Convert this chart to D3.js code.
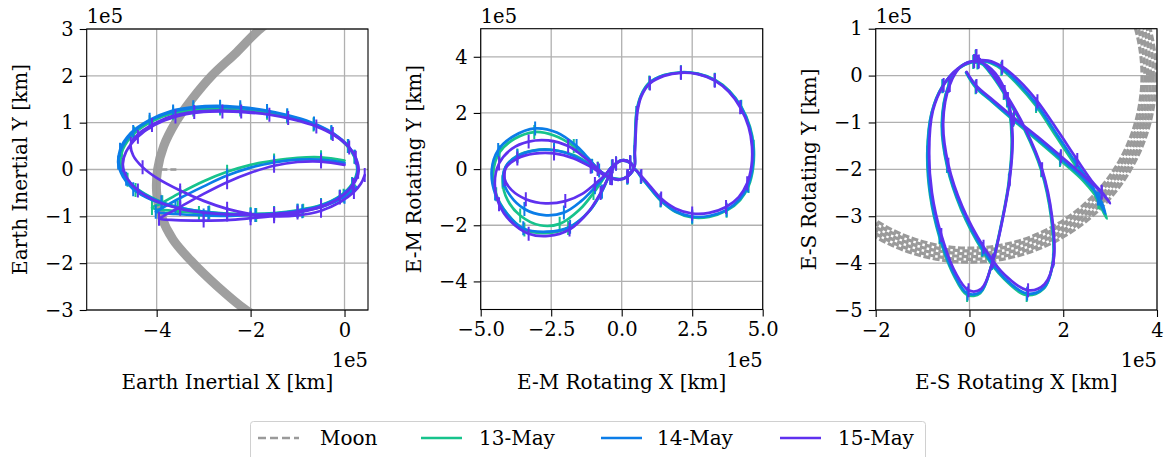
<!DOCTYPE html>
<html><head><meta charset="utf-8">
<script src="https://cdn.jsdelivr.net/npm/d3@7"></script>
<style>body{margin:0;background:#fff} svg{display:block} text{font-family:'DejaVu Serif',serif;fill:#000}</style>
</head><body><svg id="c" width="1164" height="457"></svg>
<script>
// ---------------- DATA (units of 1e5 km) ----------------
const seriesNames = ["13-May", "14-May", "15-May"];
const seriesColors = ["#17c38c", "#0b7de8", "#5f31ef"];
const moonColor = "#9a9a9a";

// Panel 1: Earth inertial
const p1XTicks = [-4, -2, 0];
const p1YTicks = [-3, -2, -1, 0, 1, 2, 3];
const p1Moon = [[-1.3,3.35],[-1.8,3.0],[-2.3,2.5],[-2.83,2.0],[-3.25,1.5],[-3.6,1.0],[-3.85,0.5],[-3.98,0.0],[-4.0,-0.5],[-3.9,-1.0],[-3.65,-1.5],[-3.22,-2.0],[-2.7,-2.5],[-2.1,-3.0],[-1.6,-3.3]];
const p1MoonDash = [[-3.9,0.0],[-3.55,0.0]];
const p1Traj13 = [[0.0,0.19],[-0.5,0.26],[-1.0,0.25],[-1.5,0.19],[-2.0,0.1],[-2.5,-0.05],[-3.0,-0.25],[-3.5,-0.5],[-3.9,-0.72],[-4.1,-0.82],[-3.7,-0.88],[-3.1,-0.93],[-2.5,-0.95],[-2.0,-0.95],[-1.5,-0.93],[-1.0,-0.88],[-0.5,-0.77],[-0.1,-0.58],[0.16,-0.32],[0.27,-0.04],[0.23,0.24],[0.07,0.5],[-0.23,0.75],[-0.66,0.96],[-1.15,1.11],[-1.65,1.21],[-2.15,1.27],[-2.65,1.3],[-3.15,1.28],[-3.65,1.2],[-4.1,1.03],[-4.48,0.77],[-4.72,0.43],[-4.77,0.12],[-4.67,-0.17],[-4.45,-0.44],[-4.05,-0.66],[-3.55,-0.81],[-3.0,-0.9],[-2.5,-0.94],[-2.0,-0.95],[-1.5,-0.93],[-1.0,-0.87],[-0.5,-0.76],[-0.1,-0.57],[0.16,-0.31],[0.27,-0.02],[0.21,0.27],[0.04,0.52],[-0.28,0.78],[-0.72,0.99],[-1.22,1.13],[-1.72,1.23],[-2.22,1.28],[-2.72,1.31],[-3.22,1.28],[-3.72,1.19],[-4.15,1.01],[-4.52,0.75],[-4.74,0.4],[-4.76,0.08],[-4.62,-0.22],[-4.32,-0.48],[-3.88,-0.7],[-3.38,-0.84],[-2.88,-0.92],[-2.38,-0.96],[-1.88,-0.97],[-1.38,-0.95],[-0.88,-0.88],[-0.4,-0.76],[-0.02,-0.56],[0.22,-0.34]];
const p1Traj14 = [[0.0,0.14],[-0.5,0.21],[-1.0,0.21],[-1.5,0.15],[-2.0,0.04],[-2.5,-0.13],[-3.0,-0.36],[-3.5,-0.61],[-3.95,-0.86],[-4.02,-0.9],[-3.6,-0.95],[-3.0,-0.98],[-2.5,-0.99],[-2.0,-0.97],[-1.5,-0.94],[-1.0,-0.88],[-0.5,-0.77],[-0.1,-0.58],[0.17,-0.32],[0.28,-0.04],[0.24,0.24],[0.08,0.5],[-0.22,0.76],[-0.65,0.98],[-1.15,1.14],[-1.65,1.25],[-2.15,1.31],[-2.65,1.34],[-3.15,1.32],[-3.65,1.24],[-4.1,1.07],[-4.5,0.8],[-4.75,0.45],[-4.82,0.15],[-4.72,-0.15],[-4.5,-0.42],[-4.1,-0.65],[-3.6,-0.8],[-3.0,-0.9],[-2.5,-0.95],[-2.0,-0.96],[-1.5,-0.94],[-1.0,-0.88],[-0.5,-0.77],[-0.1,-0.58],[0.17,-0.32],[0.28,-0.03],[0.22,0.27],[0.05,0.53],[-0.28,0.8],[-0.72,1.01],[-1.22,1.16],[-1.72,1.27],[-2.22,1.33],[-2.72,1.36],[-3.22,1.33],[-3.72,1.24],[-4.15,1.06],[-4.55,0.78],[-4.78,0.42],[-4.8,0.1],[-4.65,-0.2],[-4.35,-0.47],[-3.9,-0.7],[-3.4,-0.85],[-2.9,-0.93],[-2.4,-0.97],[-1.9,-0.97],[-1.4,-0.95],[-0.9,-0.89],[-0.4,-0.77],[0.0,-0.58],[0.25,-0.38]];
const p1Traj15 = [[0.0,0.1],[-0.5,0.17],[-1.0,0.16],[-1.5,0.08],[-2.0,-0.07],[-2.5,-0.27],[-3.0,-0.52],[-3.5,-0.8],[-3.9,-1.02],[-3.95,-1.05],[-3.6,-1.08],[-3.0,-1.09],[-2.5,-1.08],[-2.0,-1.04],[-1.5,-0.99],[-1.0,-0.92],[-0.5,-0.8],[-0.1,-0.6],[0.17,-0.33],[0.29,-0.05],[0.25,0.22],[0.1,0.47],[-0.2,0.72],[-0.6,0.92],[-1.1,1.07],[-1.6,1.17],[-2.1,1.22],[-2.6,1.24],[-3.1,1.22],[-3.6,1.13],[-4.05,0.95],[-4.4,0.7],[-4.65,0.38],[-4.72,0.1],[-4.62,-0.2],[-4.4,-0.45],[-4.0,-0.68],[-3.5,-0.84],[-3.0,-0.92],[-2.5,-0.96],[-2.0,-0.97],[-1.5,-0.95],[-1.0,-0.9],[-0.5,-0.79],[-0.1,-0.6],[0.18,-0.33],[0.3,-0.04],[0.24,0.25],[0.08,0.5],[-0.25,0.76],[-0.7,0.96],[-1.2,1.1],[-1.7,1.19],[-2.2,1.24],[-2.7,1.26],[-3.2,1.23],[-3.7,1.13],[-4.1,0.95],[-4.4,0.75],[-4.55,0.55],[-4.5,0.3],[-4.3,0.05],[-4.0,-0.18],[-3.5,-0.45],[-3.0,-0.67],[-2.5,-0.84],[-2.0,-0.95],[-1.5,-1.0],[-1.0,-0.98],[-0.5,-0.88],[-0.1,-0.7],[0.2,-0.48],[0.35,-0.3],[0.43,-0.12]];

// Panel 2: Earth-Moon rotating
const p2XTicks = [-5, -2.5, 0, 2.5, 5];
const p2YTicks = [-4, -2, 0, 2, 4];
const p2Traj13 = [[-0.05,-0.36],[-0.35,-0.31],[-0.62,-0.2],[-1.05,0.12],[-1.7,0.5],[-2.4,0.68],[-3.1,0.67],[-3.7,0.48],[-4.1,0.1],[-4.22,-0.45],[-4.05,-1.1],[-3.6,-1.65],[-2.9,-2.0],[-2.2,-1.95],[-1.5,-1.45],[-1.0,-0.85],[-0.62,-0.3],[-0.35,0.08],[0.0,0.3],[0.3,0.22],[0.43,0.05],[0.22,-0.25],[-0.1,-0.37],[-0.4,-0.3],[-0.62,-0.18],[-0.85,0.02],[-1.2,0.38],[-1.7,0.82],[-2.4,1.2],[-3.1,1.32],[-3.8,1.08],[-4.33,0.6],[-4.55,-0.1],[-4.45,-0.9],[-4.05,-1.6],[-3.45,-2.15],[-2.7,-2.28],[-1.9,-2.1],[-1.15,-1.5],[-0.72,-0.82],[-0.45,-0.25],[-0.2,0.2],[0.05,0.32],[0.3,0.24],[0.45,0.08],[0.46,0.6],[0.48,1.3],[0.52,2.0],[0.68,2.62],[0.98,3.08],[1.5,3.35],[2.1,3.45],[2.7,3.4],[3.3,3.18],[3.82,2.78],[4.24,2.22],[4.55,1.5],[4.68,0.8],[4.66,0.05],[4.5,-0.6],[4.2,-1.1],[3.72,-1.48],[3.1,-1.7],[2.5,-1.72],[1.9,-1.52],[1.38,-1.12],[0.98,-0.65],[0.68,-0.28],[0.45,0.0],[0.2,-0.3]];
const p2Traj14 = [[-0.05,-0.37],[-0.35,-0.32],[-0.62,-0.2],[-1.05,0.1],[-1.7,0.47],[-2.4,0.67],[-3.1,0.66],[-3.7,0.46],[-4.12,0.08],[-4.2,-0.4],[-3.95,-0.95],[-3.45,-1.42],[-2.75,-1.64],[-2.05,-1.55],[-1.45,-1.15],[-0.95,-0.65],[-0.6,-0.25],[-0.33,0.1],[0.0,0.31],[0.3,0.22],[0.43,0.05],[0.22,-0.26],[-0.1,-0.38],[-0.4,-0.3],[-0.6,-0.18],[-0.8,-0.05],[-1.15,0.35],[-1.6,0.82],[-2.3,1.3],[-3.07,1.45],[-3.84,1.17],[-4.38,0.68],[-4.61,-0.04],[-4.49,-0.87],[-4.08,-1.58],[-3.49,-2.11],[-2.66,-2.23],[-1.83,-2.05],[-1.12,-1.46],[-0.7,-0.8],[-0.45,-0.25],[-0.2,0.2],[0.05,0.32],[0.3,0.24],[0.45,0.08],[0.46,0.6],[0.49,1.3],[0.53,2.0],[0.69,2.62],[0.99,3.07],[1.5,3.34],[2.1,3.44],[2.7,3.39],[3.3,3.17],[3.81,2.77],[4.23,2.21],[4.53,1.5],[4.66,0.8],[4.64,0.06],[4.48,-0.58],[4.18,-1.08],[3.72,-1.45],[3.1,-1.67],[2.5,-1.69],[1.9,-1.5],[1.38,-1.1],[0.98,-0.64],[0.68,-0.27],[0.45,0.0],[0.2,-0.3]];
const p2Traj15 = [[-0.05,-0.38],[-0.35,-0.33],[-0.65,-0.2],[-1.1,0.08],[-1.7,0.38],[-2.4,0.56],[-3.1,0.55],[-3.7,0.38],[-4.1,0.05],[-4.15,-0.35],[-3.9,-0.75],[-3.4,-1.07],[-2.7,-1.22],[-2.0,-1.14],[-1.4,-0.88],[-0.95,-0.53],[-0.6,-0.22],[-0.32,0.1],[0.0,0.3],[0.3,0.22],[0.42,0.05],[0.22,-0.25],[-0.1,-0.38],[-0.4,-0.32],[-0.6,-0.2],[-0.85,0.0],[-1.3,0.4],[-1.9,0.82],[-2.6,1.02],[-3.3,0.98],[-3.9,0.72],[-4.35,0.2],[-4.5,-0.5],[-4.35,-1.25],[-3.95,-1.85],[-3.3,-2.3],[-2.6,-2.38],[-1.85,-2.15],[-1.2,-1.55],[-0.75,-0.85],[-0.45,-0.25],[-0.2,0.2],[0.05,0.32],[0.3,0.24],[0.45,0.08],[0.47,0.6],[0.5,1.3],[0.55,2.0],[0.7,2.6],[1.0,3.05],[1.5,3.32],[2.1,3.43],[2.7,3.38],[3.3,3.15],[3.8,2.75],[4.2,2.2],[4.5,1.5],[4.62,0.8],[4.6,0.1],[4.45,-0.5],[4.15,-1.0],[3.7,-1.35],[3.1,-1.56],[2.5,-1.58],[1.9,-1.4],[1.4,-1.05],[1.0,-0.6],[0.7,-0.25],[0.45,-0.02],[0.2,-0.25]];

// Panel 3: Earth-Sun rotating
const p3XTicks = [-2, 0, 2, 4];
const p3YTicks = [-5, -4, -3, -2, -1, 0, 1];
const p3MoonRadii = [3.68, 3.74, 3.8, 3.86, 3.92, 3.98];
const p3Traj13 = [[-0.07,0.06],[0.13,-0.25],[0.48,-0.56],[0.93,-0.95],[1.43,-1.37],[1.93,-1.8],[2.43,-2.25],[2.78,-2.7],[2.93,-3.05],[2.75,-2.7],[2.6,-2.4],[2.25,-1.9],[1.85,-1.3],[1.42,-0.65],[1.02,-0.18],[0.68,0.14],[0.38,0.29],[0.08,0.29],[-0.27,0.12],[-0.58,-0.23],[-0.81,-0.8],[-0.9,-1.65],[-0.84,-2.55],[-0.64,-3.45],[-0.33,-4.27],[-0.05,-4.68],[0.23,-4.64],[0.48,-4.0],[0.68,-3.15],[0.84,-2.25],[0.9,-1.33],[0.8,-0.53],[0.52,0.03],[0.17,0.28],[-0.18,0.2],[-0.45,-0.22],[-0.59,-1.02],[-0.48,-1.93],[-0.18,-2.85],[0.27,-3.72],[0.72,-4.32],[1.22,-4.68],[1.58,-4.55],[1.78,-3.95],[1.74,-3.02],[1.53,-2.02],[1.18,-1.17],[0.73,-0.37],[0.38,0.13],[0.13,0.4]];
const p3Traj14 = [[-0.07,0.07],[0.14,-0.24],[0.49,-0.55],[0.94,-0.93],[1.44,-1.34],[1.94,-1.77],[2.44,-2.2],[2.78,-2.62],[2.9,-2.95],[2.74,-2.62],[2.62,-2.36],[2.27,-1.86],[1.87,-1.26],[1.43,-0.61],[1.03,-0.15],[0.69,0.16],[0.39,0.3],[0.09,0.3],[-0.26,0.13],[-0.57,-0.22],[-0.8,-0.78],[-0.89,-1.63],[-0.83,-2.53],[-0.63,-3.43],[-0.32,-4.25],[-0.04,-4.65],[0.24,-4.61],[0.49,-3.98],[0.69,-3.13],[0.85,-2.23],[0.91,-1.32],[0.81,-0.52],[0.53,0.04],[0.18,0.29],[-0.17,0.21],[-0.44,-0.21],[-0.58,-1.01],[-0.47,-1.92],[-0.17,-2.83],[0.28,-3.7],[0.73,-4.3],[1.23,-4.65],[1.59,-4.52],[1.79,-3.93],[1.75,-3.01],[1.54,-2.01],[1.19,-1.16],[0.74,-0.36],[0.39,0.14],[0.14,0.41]];
const p3Traj15 = [[-0.06,0.08],[0.15,-0.22],[0.5,-0.52],[0.95,-0.9],[1.45,-1.3],[1.95,-1.72],[2.45,-2.15],[2.82,-2.5],[3.0,-2.72],[2.82,-2.48],[2.65,-2.3],[2.3,-1.8],[1.9,-1.2],[1.45,-0.55],[1.05,-0.1],[0.7,0.19],[0.4,0.32],[0.1,0.31],[-0.25,0.15],[-0.55,-0.2],[-0.78,-0.75],[-0.86,-1.6],[-0.8,-2.5],[-0.6,-3.4],[-0.3,-4.2],[-0.02,-4.58],[0.25,-4.55],[0.5,-3.95],[0.7,-3.1],[0.86,-2.2],[0.92,-1.3],[0.82,-0.5],[0.55,0.05],[0.2,0.3],[-0.15,0.22],[-0.42,-0.2],[-0.56,-1.0],[-0.45,-1.9],[-0.15,-2.8],[0.3,-3.65],[0.75,-4.25],[1.25,-4.58],[1.6,-4.45],[1.8,-3.9],[1.76,-3.0],[1.55,-2.0],[1.2,-1.15],[0.75,-0.35],[0.4,0.15],[0.15,0.42]];

// ---------------- DRAWING ----------------
const svg = d3.select("#c");
const FS = 20, TFS = 19.5;
const panels = [
  {box:[86.7,368,29,310], xd:[-5.49,0.5], yd:[-3,3], xt:p1XTicks, yt:p1YTicks, xfmt:d3.format("d"),
   xl:"Earth Inertial X [km]", yl:"Earth Inertial Y [km]", traj:[p1Traj13,p1Traj14,p1Traj15]},
  {box:[480.7,762.7,28.7,309.5], xd:[-5,5], yd:[-5,5], xt:p2XTicks, yt:p2YTicks, xfmt:d3.format(".1f"),
   xl:"E-M Rotating X [km]", yl:"E-M Rotating Y [km]", traj:[p2Traj13,p2Traj14,p2Traj15]},
  {box:[875.7,1157,28.7,310], xd:[-2,4], yd:[-5,1], xt:p3XTicks, yt:p3YTicks, xfmt:d3.format("d"),
   xl:"E-S Rotating X [km]", yl:"E-S Rotating Y [km]", traj:[p3Traj13,p3Traj14,p3Traj15]}
];
const minus = s => String(s).replace("-", "\u2212");

panels.forEach((p, i) => {
  const [x0,x1,y0,y1] = p.box;
  const x = d3.scaleLinear().domain(p.xd).range([x0,x1]);
  const y = d3.scaleLinear().domain(p.yd).range([y1,y0]);
  const g = svg.append("g");
  const clipId = "clip"+i;
  svg.append("clipPath").attr("id",clipId).append("rect").attr("x",x0).attr("y",y0).attr("width",x1-x0).attr("height",y1-y0);
  g.selectAll(".gx").data(p.xt).enter().append("line").attr("x1",d=>x(d)).attr("x2",d=>x(d)).attr("y1",y0).attr("y2",y1)
    .attr("stroke","#b0b0b0").attr("stroke-width",1.3);
  g.selectAll(".gy").data(p.yt).enter().append("line").attr("y1",d=>y(d)).attr("y2",d=>y(d)).attr("x1",x0).attr("x2",x1)
    .attr("stroke","#b0b0b0").attr("stroke-width",1.3);
  const plot = g.append("g").attr("clip-path","url(#"+clipId+")");
  const line = d3.line().x(d=>x(d[0])).y(d=>y(d[1])).curve(d3.curveCatmullRom.alpha(0.5));
  if (i === 0) {
    plot.append("path").attr("d", line(p1Moon)).attr("fill","none").attr("stroke",moonColor).attr("stroke-width",9).attr("opacity",0.95);
    plot.append("path").attr("d", d3.line().x(d=>x(d[0])).y(d=>y(d[1]))(p1MoonDash)).attr("fill","none").attr("stroke",moonColor)
      .attr("stroke-width",2.5).attr("stroke-dasharray","6,3");
  }
  if (i === 2) {
    plot.selectAll(".moonc").data(p3MoonRadii).enter().append("circle")
      .attr("cx",x(0)).attr("cy",y(0)).attr("r",d=>x(d)-x(0))
      .attr("fill","none").attr("stroke",moonColor).attr("stroke-width",3.2).attr("stroke-dasharray","7,2.5");
  }
  p.traj.forEach((data, s) => {
    plot.append("path").attr("d", line(data)).attr("fill","none").attr("stroke",seriesColors[s])
      .attr("stroke-width",2.7).attr("stroke-linejoin","round").attr("stroke-linecap","round");
    plot.selectAll(null).data(data.filter((d,k)=>k%2===1)).enter().append("line")
      .attr("x1",d=>x(d[0])).attr("x2",d=>x(d[0])).attr("y1",d=>y(d[1])-7).attr("y2",d=>y(d[1])+7)
      .attr("stroke",seriesColors[s]).attr("stroke-width",2);
  });
  const ax = g.append("g").attr("transform",`translate(0,${y1})`)
    .call(d3.axisBottom(x).tickValues(p.xt).tickFormat(d=>minus(p.xfmt(d))).tickSize(7).tickPadding(6));
  const ay = g.append("g").attr("transform",`translate(${x0},0)`)
    .call(d3.axisLeft(y).tickValues(p.yt).tickFormat(d=>minus(d3.format("d")(d))).tickSize(7).tickPadding(6));
  [ax,ay].forEach(a=>{
    a.select(".domain").remove();
    a.selectAll("text").style("font-family","'DejaVu Serif',serif").style("font-size",TFS+"px").attr("fill","#000");
    a.selectAll("line").attr("stroke","#000").attr("stroke-width",1.1);
  });
  g.append("rect").attr("x",x0).attr("y",y0).attr("width",x1-x0).attr("height",y1-y0)
    .attr("fill","none").attr("stroke","#000").attr("stroke-width",1.1);
  g.append("text").attr("x",x0).attr("y",y0-6).attr("font-size",TFS).text("1e5");
  g.append("text").attr("x",x1).attr("y",y1+57).attr("text-anchor","end").attr("font-size",TFS).text("1e5");
  g.append("text").attr("x",(x0+x1)/2).attr("y",y1+79).attr("text-anchor","middle").attr("font-size",FS).text(p.xl);
  g.append("text").attr("transform",`translate(${x0-60},${(y0+y1)/2}) rotate(-90)`).attr("text-anchor","middle")
    .attr("font-size",FS).text(p.yl);
});

// legend
const lg = svg.append("g");
lg.append("rect").attr("x",250.5).attr("y",421.5).attr("width",675).attr("height",40).attr("rx",3)
  .attr("fill","#fff").attr("stroke","#d0d0d0").attr("stroke-width",1);
const legendLineX = [258, 421, 601, 780];
const legendTextX = [320, 479, 657, 838];
const legendItems = [{name:"Moon", color:moonColor, dash:"8,4"}]
  .concat(seriesNames.map((n,k)=>({name:n, color:seriesColors[k], dash:null})));
legendItems.forEach((it,k)=>{
  lg.append("line").attr("x1",legendLineX[k]).attr("x2",legendLineX[k]+41).attr("y1",438).attr("y2",438).attr("stroke",it.color)
    .attr("stroke-width",2.7).attr("stroke-dasharray",it.dash);
  lg.append("text").attr("x",legendTextX[k]).attr("y",445).attr("font-size",FS).text(it.name);
});
</script></body></html>
